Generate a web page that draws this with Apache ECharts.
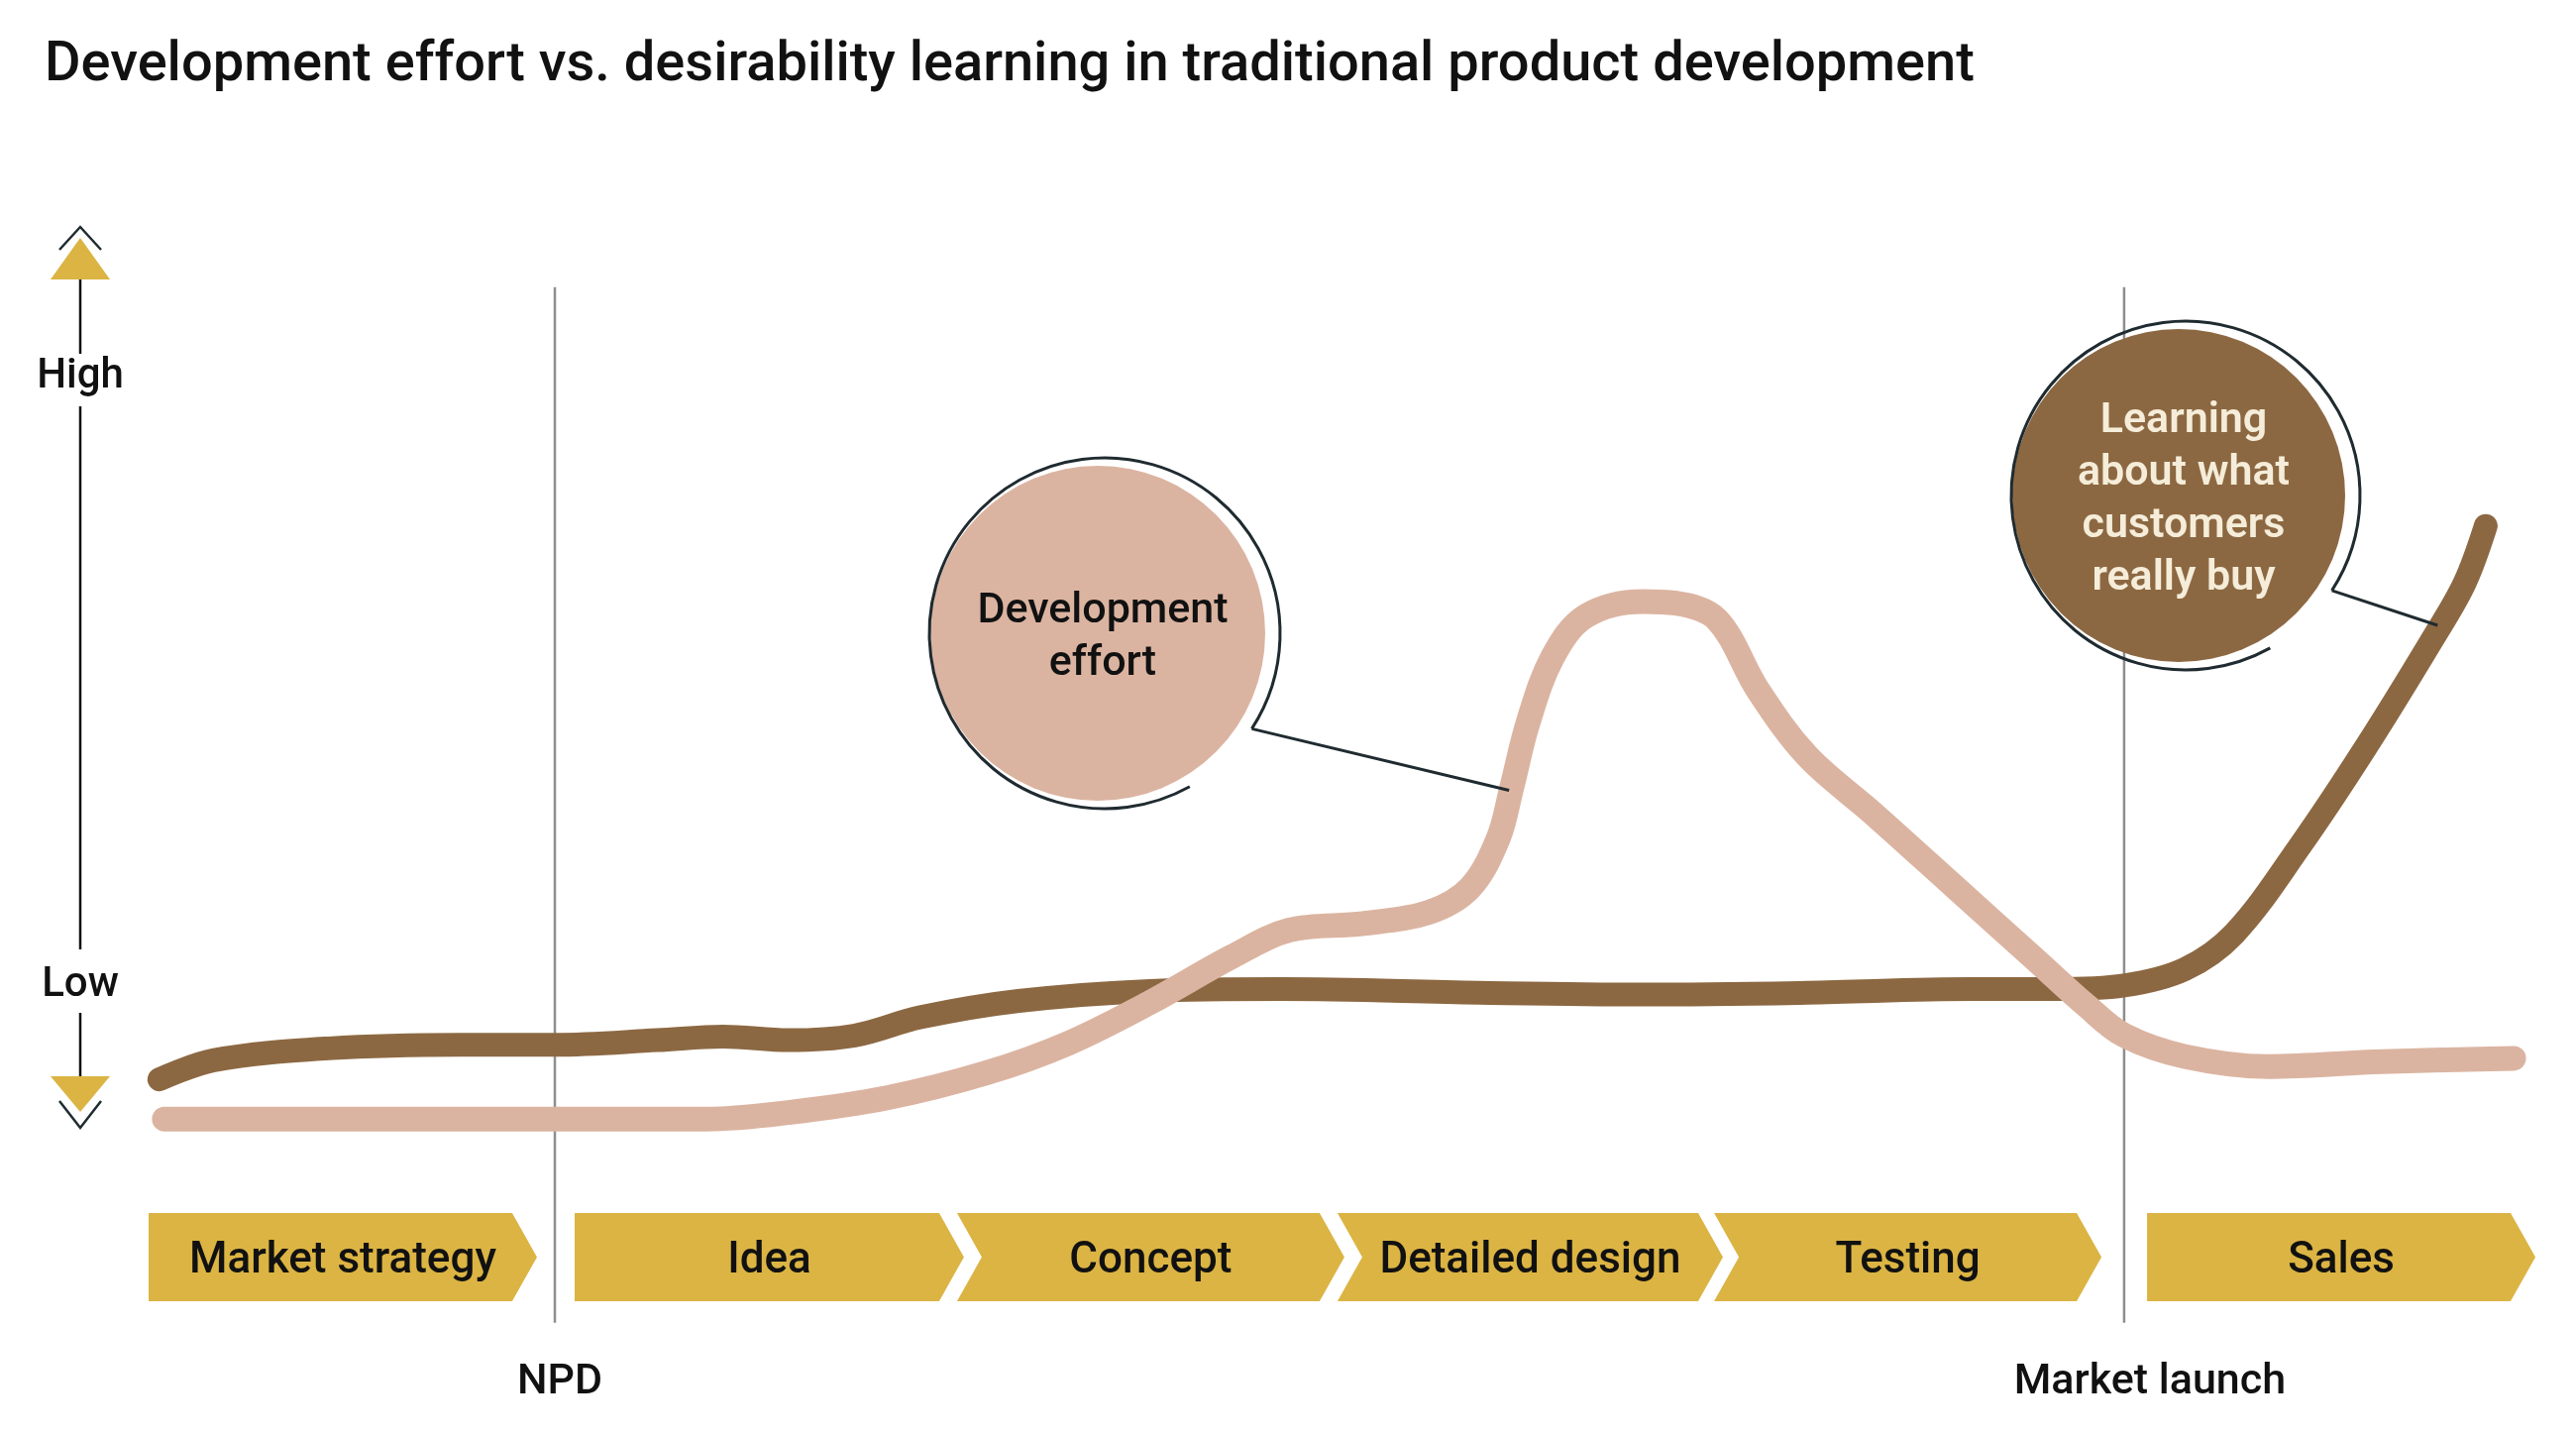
<!DOCTYPE html>
<html><head><meta charset="utf-8">
<script src="https://cdn.jsdelivr.net/npm/echarts@6/dist/echarts.min.js"></script>
<style>html,body{margin:0;padding:0;background:#fff}#c{width:2600px;height:1449px}</style>
</head><body><div id="c"></div>
<script>
// ---- data ----
const titleText = 'Development effort vs. desirability learning in traditional product development';
const learningX = [0.45, 2.72, 7.54, 13.05, 17.04, 21.31, 24.06, 26.81, 29.57, 32.32, 36.45, 41.96, 47.46, 55.72, 62.61, 69.49, 76.37, 79.81, 82.77, 85.32, 87.39, 90.14, 92.89, 95.65, 97.03, 97.92];
const learningY = [7.7, 9.8, 11.1, 11.5, 11.5, 12.0, 12.4, 12.0, 12.5, 14.5, 16.3, 17.4, 17.6, 17.2, 17.0, 17.2, 17.6, 17.6, 18.0, 19.8, 23.7, 33.3, 44.1, 55.8, 62.1, 68.4];
const effortX = [0.66, 7.54, 17.04, 23.37, 26.81, 30.94, 35.07, 38.51, 41.96, 45.40, 47.81, 50.90, 53.66, 55.38, 56.55, 57.10, 57.79, 58.82, 60.20, 62.61, 63.99, 65.71, 67.43, 69.49, 72.25, 75.69, 79.13, 81.19, 82.77, 85.32, 88.76, 93.58, 99.09];
const effortY = [3.35, 3.35, 3.35, 3.35, 4.07, 5.68, 8.39, 11.64, 16.14, 21.18, 24.08, 24.79, 26.05, 28.76, 34.16, 39.58, 46.78, 53.99, 58.50, 60.12, 59.93, 58.14, 50.39, 43.17, 36.87, 28.76, 20.65, 15.78, 12.53, 10.20, 9.11, 9.65, 10.01];
const stageNames = ['Market strategy', 'Idea', 'Concept', 'Detailed design', 'Testing', 'Sales'];
const stageStart = [0, 17.85, 33.87, 49.81, 65.59, 83.73];
const stageEnd = [16.27, 34.16, 50.10, 65.96, 81.82, 100];
const stageNotched = [0, 0, 1, 1, 1, 0];
const milestoneNames = ['NPD', 'Market launch'];
const milestoneX = [17.02, 82.77];
const levelNames = ['High', 'Low'];
const levelValues = [84.7, 18.0];
const effortLabel = 'Development\neffort';
const learningLabel = 'Learning\nabout what\ncustomers\nreally buy';
const effortPointer = [57.0, 39.4];
const learningPointer = [95.9, 57.5];

// ---- style constants ----
const BROWN = '#8C6842', PINK = '#DBB4A1', GOLD = '#DBB443', DARK = '#1F2B30', CREAM = '#F5EDD9', GREY = '#8E8E8E';
const FONT = 'Roboto, "Liberation Sans", sans-serif';
const CHEV_TOP = -6.96, CHEV_BOT = -16.63, CHEV_D = 25;
const MS_TOP = 94.6, MS_BOT = -19.0, MS_LABEL = -25.6;
const msLabelDx = [5, 26];

const chart = echarts.init(document.getElementById('c'));
const zip = (xs, ys) => xs.map((x, i) => [x, ys[i]]);

chart.setOption({
  backgroundColor: '#fff',
  animation: false,
  title: {
    text: titleText, left: 40, top: 34,
    textStyle: { fontFamily: FONT, fontSize: 56, fontWeight: 500, color: '#111' }
  },
  grid: { left: 150, right: 41, top: 240, bottom: 289 },
  xAxis: { type: 'value', min: 0, max: 100, show: false },
  yAxis: { type: 'value', min: 0, max: 100, show: false },
  series: [
    {
      type: 'custom', name: 'stages', clip: false, z: 1,
      data: stageNames.map((n, i) => [stageStart[i], stageEnd[i], stageNotched[i], n]),
      renderItem: function (params, api) {
        const s = api.value(0), e = api.value(1), notch = api.value(2);
        const name = stageNames[params.dataIndex];
        const p0 = api.coord([s, CHEV_TOP]), p1 = api.coord([e, CHEV_BOT]);
        const top = p0[1], bot = p1[1], mid = (top + bot) / 2, L = p0[0], T = p1[0];
        const pts = [[L, top], [T - CHEV_D, top], [T, mid], [T - CHEV_D, bot], [L, bot]];
        if (notch) pts.push([L + CHEV_D, mid]);
        return {
          type: 'group', children: [
            { type: 'polygon', shape: { points: pts }, style: { fill: GOLD } },
            { type: 'text', style: { text: name, x: (L + T) / 2, y: mid + 4, align: 'center', verticalAlign: 'middle',
              font: '500 44px ' + FONT, fill: '#111' } }
          ]
        };
      }
    },
    {
      type: 'custom', name: 'milestones', clip: false, z: 1,
      data: milestoneX.map((x, i) => [x, milestoneNames[i]]),
      renderItem: function (params, api) {
        const x = api.value(0);
        const a = api.coord([x, MS_TOP]), b = api.coord([x, MS_BOT]), c = api.coord([x, MS_LABEL]);
        return {
          type: 'group', children: [
            { type: 'line', shape: { x1: a[0], y1: a[1], x2: b[0], y2: b[1] }, style: { stroke: GREY, lineWidth: 2.5 } },
            { type: 'text', style: { text: milestoneNames[params.dataIndex], x: c[0] + msLabelDx[params.dataIndex], y: c[1],
              align: 'center', verticalAlign: 'middle', font: '500 43px ' + FONT, fill: '#111' } }
          ]
        };
      }
    },
    {
      type: 'line', name: 'Learning about what customers really buy', clip: false, z: 3,
      data: zip(learningX, learningY), smooth: 0.35, showSymbol: false, symbol: 'none',
      lineStyle: { color: BROWN, width: 24, cap: 'round', join: 'round' }
    },
    {
      type: 'line', name: 'Development effort', clip: false, z: 4,
      data: zip(effortX, effortY), smooth: 0.35, showSymbol: false, symbol: 'none',
      lineStyle: { color: PINK, width: 25, cap: 'round', join: 'round' }
    }
  ]
});

// ---- annotations ----
function bubble(cx, cy, r, fill, label, color, weight, pointer) {
  const oc = [cx + 7, cy], orr = r + 8;
  const a0 = 33 * Math.PI / 180, a1 = 61 * Math.PI / 180;
  const sx = oc[0] + orr * Math.cos(a0), sy = oc[1] + orr * Math.sin(a0);
  const pe = chart.convertToPixel({ gridIndex: 0 }, pointer);
  return [
    { type: 'circle', shape: { cx: cx, cy: cy, r: r }, style: { fill: fill }, z: 10 },
    { type: 'arc', shape: { cx: oc[0], cy: oc[1], r: orr, startAngle: a1, endAngle: a0 + 2 * Math.PI, clockwise: true },
      style: { stroke: DARK, lineWidth: 3, fill: null }, z: 11 },
    { type: 'line', shape: { x1: sx, y1: sy, x2: pe[0], y2: pe[1] }, style: { stroke: DARK, lineWidth: 3 }, z: 11 },
    { type: 'text', x: cx + 5, y: cy + 5, style: { text: label, align: 'center', verticalAlign: 'middle',
      font: weight + ' 43px ' + FONT, lineHeight: 53, fill: color }, z: 12 }
  ];
}

const AX = 81;
const hiY = chart.convertToPixel({ gridIndex: 0 }, [0, levelValues[0]])[1];
const loY = chart.convertToPixel({ gridIndex: 0 }, [0, levelValues[1]])[1];
const axisEls = [
  { type: 'polyline', shape: { points: [[60, 252], [AX, 229], [102, 252]] }, style: { stroke: DARK, lineWidth: 2.5, fill: null } },
  { type: 'polygon', shape: { points: [[AX, 240], [111, 282], [51, 282]] }, style: { fill: GOLD } },
  { type: 'line', shape: { x1: AX, y1: 282, x2: AX, y2: 357 }, style: { stroke: '#111', lineWidth: 2.5 } },
  { type: 'text', x: AX, y: hiY, style: { text: levelNames[0], align: 'center', verticalAlign: 'middle', font: '500 42px ' + FONT, fill: '#111' } },
  { type: 'line', shape: { x1: AX, y1: 410, x2: AX, y2: 958 }, style: { stroke: '#111', lineWidth: 2.5 } },
  { type: 'text', x: AX, y: loY, style: { text: levelNames[1], align: 'center', verticalAlign: 'middle', font: '500 42px ' + FONT, fill: '#111' } },
  { type: 'line', shape: { x1: AX, y1: 1022, x2: AX, y2: 1086 }, style: { stroke: '#111', lineWidth: 2.5 } },
  { type: 'polygon', shape: { points: [[51, 1086], [111, 1086], [AX, 1122]] }, style: { fill: GOLD } },
  { type: 'polyline', shape: { points: [[60, 1111], [AX, 1138], [102, 1111]] }, style: { stroke: DARK, lineWidth: 2.5, fill: null } }
];

chart.setOption({
  graphic: axisEls
    .concat(bubble(1108, 639, 169, PINK, effortLabel, '#111', 500, effortPointer))
    .concat(bubble(2199, 500, 168, BROWN, learningLabel, CREAM, 600, learningPointer))
});
</script></body></html>
